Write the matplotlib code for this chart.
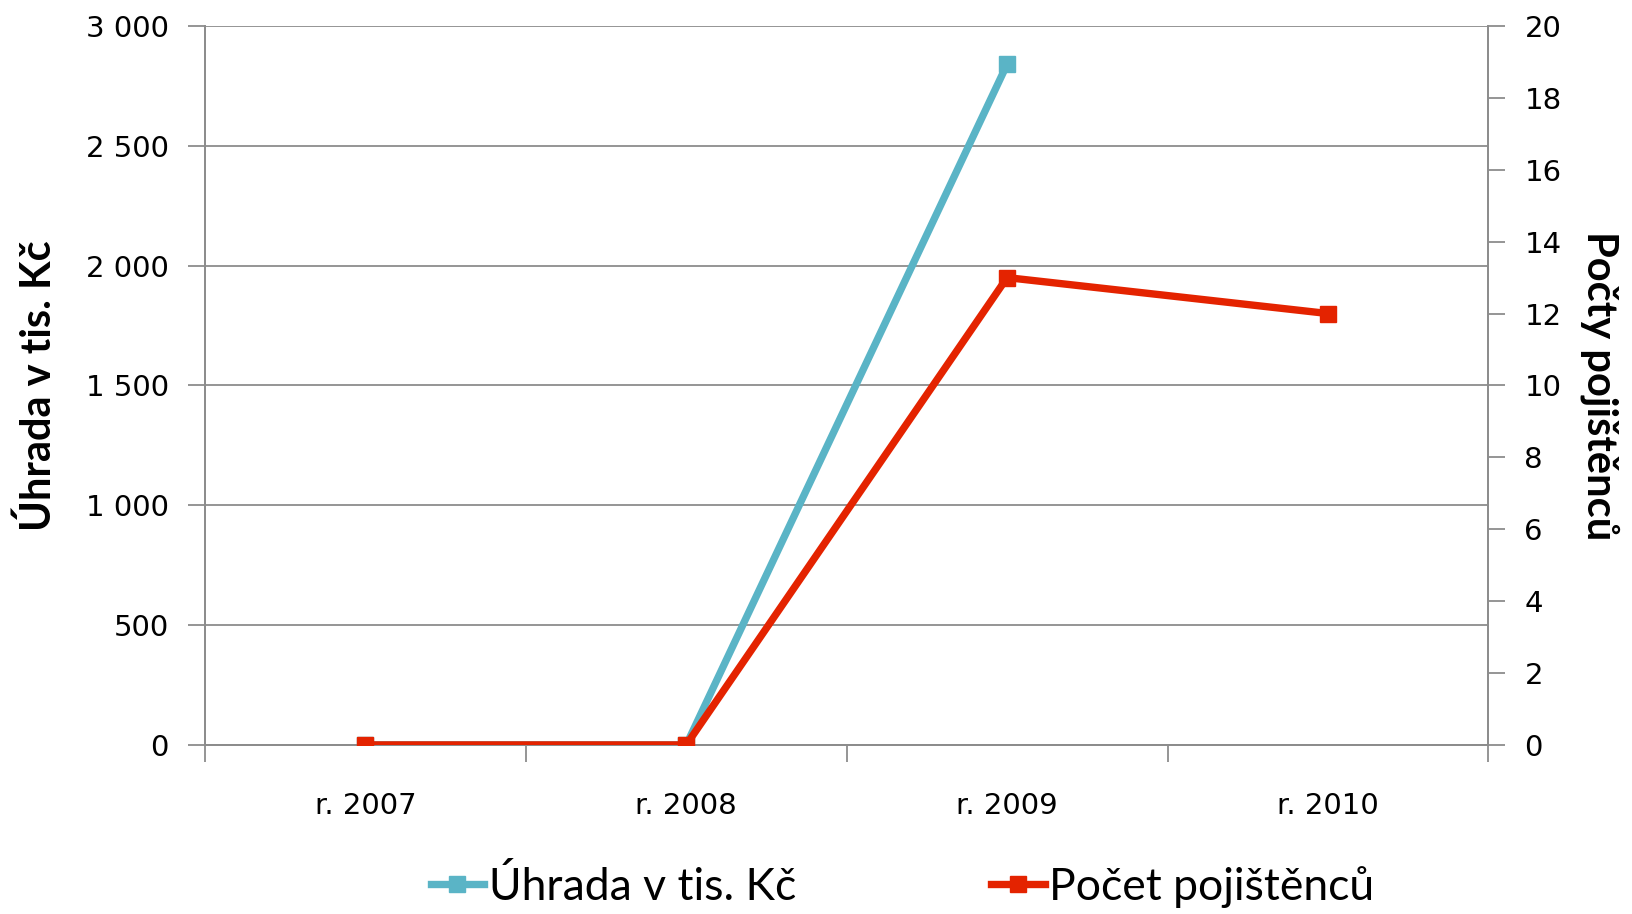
import numpy as np
import matplotlib
matplotlib.use("Agg")
import matplotlib.pyplot as plt
from matplotlib.ticker import FuncFormatter, FixedLocator

years = ["r. 2007", "r. 2008", "r. 2009", "r. 2010"]
uhrada = [0, 0, 2840, np.nan]      # tis. Kc
pocet = [0, 0, 13, 12]             # pocet pojistencu

left_ticks = [0, 500, 1000, 1500, 2000, 2500, 3000]
right_ticks = list(range(0, 21, 2))

blue = "#5AB4C6"
red = "#E42300"
grid_c = "#8C8C8C"

plt.rcParams['font.family'] = ['DejaVu Sans']
narrow = ["Lato", "DejaVu Sans"]

fig = plt.figure(figsize=(16.32, 9.14), dpi=100)
ax = fig.add_axes([0.1256, 0.185, 0.912 - 0.1256, 0.9716 - 0.185])
ax2 = ax.twinx()

x = np.arange(len(years))
ax.plot(x, uhrada, color=blue, lw=5.3, marker="s", ms=11.5, zorder=3)
ax2.plot(x, pocet, color=red, lw=5.3, marker="s", ms=11.5, zorder=3)

ax.set_xlim(-0.5, 3.5)
ax.set_ylim(0, 3000)
ax2.set_ylim(0, 20)
ax.set_yticks(left_ticks)
ax2.set_yticks(right_ticks)
ax.yaxis.set_major_formatter(FuncFormatter(lambda v, p: f"{int(v):,}".replace(",", " ")))

ax.xaxis.set_major_locator(FixedLocator(x))
ax.set_xticklabels(years)
ax.xaxis.set_minor_locator(FixedLocator(np.arange(-0.5, 4, 1)))
ax.tick_params(axis="x", which="major", length=0, pad=34, labelsize=21)
ax.tick_params(axis="x", which="minor", length=12, width=1.3, color=grid_c, direction="out")
ax.tick_params(axis="y", length=12, width=1.3, color=grid_c, labelsize=21, pad=14)
ax2.tick_params(axis="y", length=12, width=1.3, color=grid_c, labelsize=21, pad=14)

ax.grid(axis="y", color=grid_c, lw=1.3)
ax.set_axisbelow(True)
for a in (ax, ax2):
    a.spines["top"].set_visible(False)
    for s in ("left", "right", "bottom"):
        a.spines[s].set_color(grid_c)
        a.spines[s].set_linewidth(1.3)

ax.set_ylabel("Úhrada v tis. Kč", fontsize=30, fontweight="bold",
              family=narrow, labelpad=20)
ax2.set_ylabel("Počty pojištěnců", fontsize=30, fontweight="bold",
               family=narrow, rotation=270, labelpad=42)

h1 = plt.Line2D([], [], color=blue, lw=5.3, marker="s", ms=11.5)
h2 = plt.Line2D([], [], color=red, lw=5.3, marker="s", ms=11.5)
fig.legend([h1, h2], ["Úhrada v tis. Kč", "Počet pojištěnců"], loc="center",
           bbox_to_anchor=(0.553, 0.03), ncol=2, frameon=False,
           prop={"family": narrow, "size": 32},
           handlelength=1.2, handletextpad=0.1, columnspacing=4.4)

fig.savefig("out.png", dpi=100)
